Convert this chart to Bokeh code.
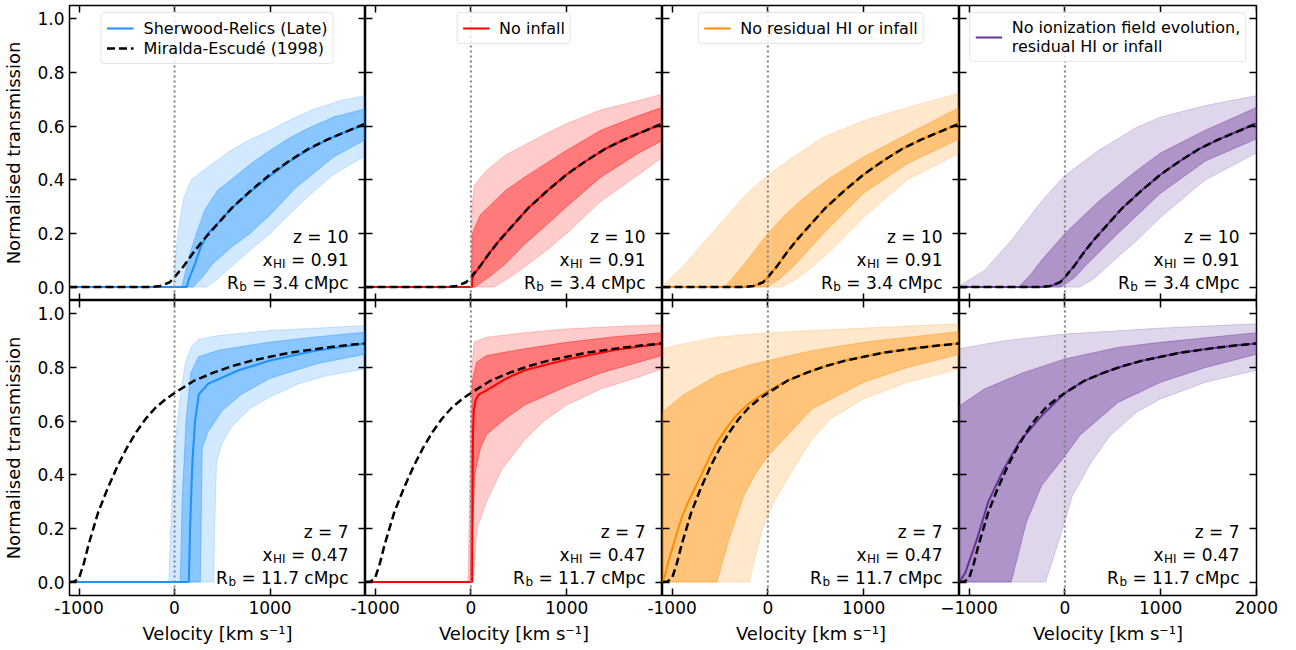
from bokeh.plotting import figure
from bokeh.layouts import row, column
from bokeh.models import (Range1d, FixedTicker, LinearAxis, Span, Legend, LegendItem,
                          Label, PrintfTickFormatter, CustomJSTickFormatter)
from bokeh.embed import file_html
from bokeh.resources import INLINE

# ---------------------------------------------------------------- data
X_TICKS = [-1000, 0, 1000, 2000]
Y_TICKS = [0.0, 0.2, 0.4, 0.6, 0.8, 1.0]
X_LABEL = "Velocity [km s\u207b\u00b9]"
Y_LABEL = "Normalised transmission"
LEGEND_LABELS = ["Sherwood-Relics (Late)", "No infall", "No residual HI or infall",
                 "No ionization field evolution,\nresidual HI or infall"]
ME_LABEL = "Miralda-Escud\u00e9 (1998)"
ANNOT_Z10 = [("z = 10", "", ""), ("x", "HI", "= 0.91"), ("R", "b", "= 3.4 cMpc")]
ANNOT_Z7 = [("z = 7", "", ""), ("x", "HI", "= 0.47"), ("R", "b", "= 11.7 cMpc")]

# Miralda-Escude curves
me10_v = [-1100, -250, -150, -50, 0, 100, 200, 300, 400, 600, 800, 1000, 1200, 1400, 1600, 1800, 2000]
me10_t = [0, 0, 0.004, 0.018, 0.037, 0.08, 0.13, 0.175, 0.215, 0.295, 0.36, 0.42, 0.47, 0.515, 0.55, 0.58, 0.61]
me7_v = [-1100, -1050, -1000, -950, -900, -800, -700, -600, -500, -400, -300, -200, -100, 0,
         200, 400, 600, 800, 1000, 1200, 1400, 1600, 1800, 2000]
me7_t = [0, 0.002, 0.015, 0.07, 0.14, 0.26, 0.35, 0.43, 0.50, 0.56, 0.61, 0.65, 0.68, 0.705,
         0.75, 0.78, 0.805, 0.825, 0.84, 0.855, 0.865, 0.875, 0.883, 0.89]

# ---- z = 10, Sherwood-Relics (blue)
z10_blue_med_v = [-1100, 127, 150, 215, 274, 350, 473, 600, 791, 1002, 1200, 1388, 1600, 1800, 2000]
z10_blue_med_t = [0, 0, 0.03, 0.087, 0.149, 0.2, 0.245, 0.295, 0.355, 0.415, 0.468, 0.51, 0.55, 0.58, 0.607]
z10_blue_hi95_v = [-1100, -15, 0, 36, 95, 175, 394, 592, 791, 1002, 1189, 1467, 1746, 2000]
z10_blue_hi95_t = [0, 0, 0.08, 0.2, 0.33, 0.40, 0.46, 0.51, 0.55, 0.585, 0.62, 0.665, 0.696, 0.715]
z10_blue_lo95_v = [-1100, 334, 450, 592, 800, 1002, 1200, 1388, 1666, 2000]
z10_blue_lo95_t = [0, 0, 0.03, 0.075, 0.14, 0.2, 0.27, 0.335, 0.42, 0.49]
z10_blue_hi68_v = [-1100, 75, 110, 155, 230, 314, 450, 592, 800, 1002, 1200, 1388, 1666, 2000]
z10_blue_hi68_t = [0, 0, 0.05, 0.12, 0.2, 0.286, 0.36, 0.40, 0.46, 0.51, 0.555, 0.59, 0.634, 0.665]
z10_blue_lo68_v = [-1100, 195, 300, 394, 600, 791, 1002, 1268, 1666, 2000]
z10_blue_lo68_t = [0, 0, 0.04, 0.085, 0.15, 0.2, 0.27, 0.37, 0.485, 0.55]

# ---- z = 10, no infall (red)
z10_red_med_v = [-1100, 10, 15, 30, 100, 200, 300, 400, 600, 800, 1000, 1200, 1400, 1600, 1800, 2000]
z10_red_med_t = [0, 0, 0.03, 0.045, 0.08, 0.13, 0.175, 0.215, 0.295, 0.36, 0.42, 0.47, 0.515, 0.55, 0.58, 0.61]
z10_red_hi95_v = [-1100, 0, 10, 36, 163, 350, 561, 800, 1000, 1356, 1753, 2000]
z10_red_hi95_t = [0, 0, 0.3, 0.38, 0.435, 0.49, 0.53, 0.575, 0.61, 0.66, 0.696, 0.72]
z10_red_lo95_v = [-1100, 243, 400, 561, 800, 1000, 1356, 1753, 2000]
z10_red_lo95_t = [0, 0, 0.035, 0.075, 0.14, 0.2, 0.32, 0.42, 0.485]
z10_red_hi68_v = [-1100, 5, 15, 100, 362, 561, 800, 1000, 1356, 1753, 2000]
z10_red_hi68_t = [0, 0, 0.2, 0.27, 0.36, 0.41, 0.465, 0.51, 0.585, 0.64, 0.67]
z10_red_lo68_v = [-1100, 44, 200, 362, 561, 800, 1000, 1356, 1753, 2000]
z10_red_lo68_t = [0, 0, 0.04, 0.087, 0.16, 0.235, 0.30, 0.41, 0.50, 0.547]

# ---- z = 10, no residual HI or infall (orange)
z10_orange_med_v = [-1100, -250, -150, -50, 0, 100, 200, 300, 400, 600, 800, 1000, 1200, 1400, 1600, 1800, 2000]
z10_orange_med_t = [0, 0, 0.004, 0.018, 0.037, 0.08, 0.13, 0.175, 0.215, 0.295, 0.36, 0.42, 0.47, 0.515, 0.55, 0.58, 0.61]
z10_orange_hi95_v = [-1100, -891, -652, -414, -215, 0, 262, 580, 998, 1455, 2000]
z10_orange_hi95_t = [0.005, 0.075, 0.174, 0.27, 0.35, 0.416, 0.485, 0.56, 0.62, 0.67, 0.723]
z10_orange_lo95_v = [-1100, 143, 300, 461, 660, 998, 1455, 2000]
z10_orange_lo95_t = [0, 0, 0.03, 0.075, 0.137, 0.26, 0.40, 0.50]
z10_orange_hi68_v = [-1100, -453, -330, -215, 0, 183, 382, 660, 998, 1455, 2000]
z10_orange_hi68_t = [0, 0, 0.05, 0.1, 0.2, 0.27, 0.335, 0.41, 0.485, 0.57, 0.67]
z10_orange_lo68_v = [-1100, -16, 120, 262, 580, 998, 1455, 2000]
z10_orange_lo68_t = [0, 0, 0.03, 0.075, 0.2, 0.35, 0.46, 0.553]

# ---- z = 10, no ionization field evolution (purple)
z10_purple_med_v = [-1100, -250, -150, -50, 0, 100, 200, 300, 400, 600, 800, 1000, 1200, 1400, 1600, 1800, 2000]
z10_purple_med_t = [0, 0, 0.004, 0.018, 0.037, 0.08, 0.13, 0.175, 0.215, 0.295, 0.36, 0.42, 0.47, 0.515, 0.55, 0.58, 0.61]
z10_purple_hi95_v = [-1100, -839, -560, -243, 0, 354, 751, 998, 1467, 2000]
z10_purple_hi95_t = [0.005, 0.062, 0.174, 0.32, 0.416, 0.51, 0.596, 0.634, 0.677, 0.714]
z10_purple_lo95_v = [-1100, 155, 300, 473, 751, 998, 1467, 2000]
z10_purple_lo95_t = [0, 0, 0.03, 0.087, 0.174, 0.26, 0.40, 0.50]
z10_purple_hi68_v = [-1100, -481, -350, -243, 0, 354, 751, 998, 1467, 2000]
z10_purple_hi68_t = [0, 0, 0.05, 0.1, 0.2, 0.32, 0.435, 0.50, 0.585, 0.67]
z10_purple_lo68_v = [-1100, -44, 100, 235, 553, 998, 1467, 2000]
z10_purple_lo68_t = [0, 0, 0.035, 0.087, 0.2, 0.35, 0.47, 0.553]

# ---- z = 7, Sherwood-Relics (blue)
z7_blue_med_v = [-1100, 150, 163, 187, 215, 254, 354, 672, 1002, 1467, 2000]
z7_blue_med_t = [0, 0, 0.2, 0.45, 0.6, 0.7, 0.74, 0.79, 0.826, 0.863, 0.89]
z7_blue_hi95_v = [-1100, -60, -30, 0, 36, 70, 115, 180, 250, 473, 1002, 1500, 2000]
z7_blue_hi95_t = [0, 0, 0.3, 0.5, 0.62, 0.72, 0.82, 0.88, 0.905, 0.92, 0.938, 0.947, 0.957]
z7_blue_lo95_v = [-1100, 410, 420, 440, 500, 600, 800, 1000, 1300, 1600, 2000]
z7_blue_lo95_t = [0, 0, 0.2, 0.45, 0.52, 0.58, 0.65, 0.69, 0.74, 0.77, 0.795]
z7_blue_hi68_v = [-1100, 60, 80, 120, 170, 250, 473, 1002, 1500, 2000]
z7_blue_hi68_t = [0, 0, 0.3, 0.6, 0.78, 0.84, 0.865, 0.895, 0.915, 0.932]
z7_blue_lo68_v = [-1100, 270, 280, 290, 350, 500, 700, 1000, 1500, 2000]
z7_blue_lo68_t = [0, 0, 0.25, 0.5, 0.56, 0.64, 0.70, 0.76, 0.815, 0.85]

# ---- z = 7, no infall (red)
z7_red_med_v = [-1100, 12, 16, 22, 30, 50, 84, 163, 362, 561, 1000, 1500, 2000]
z7_red_med_t = [0, 0, 0.25, 0.55, 0.64, 0.68, 0.70, 0.715, 0.758, 0.79, 0.83, 0.865, 0.89]
z7_red_hi95_v = [-1100, -30, -10, 10, 36, 163, 561, 1000, 1500, 2000]
z7_red_hi95_t = [0, 0, 0.4, 0.8, 0.895, 0.913, 0.93, 0.944, 0.953, 0.96]
z7_red_lo95_v = [-1100, 24, 64, 163, 322, 561, 760, 1000, 1356, 1753, 2000]
z7_red_lo95_t = [0, 0, 0.2, 0.3, 0.42, 0.53, 0.6, 0.66, 0.72, 0.765, 0.795]
z7_red_hi68_v = [-1100, -5, 5, 15, 60, 163, 561, 1000, 1500, 2000]
z7_red_hi68_t = [0, 0, 0.4, 0.75, 0.82, 0.845, 0.87, 0.894, 0.915, 0.93]
z7_red_lo68_v = [-1100, 10, 20, 40, 100, 163, 362, 561, 1000, 1356, 2000]
z7_red_lo68_t = [0, 0, 0.2, 0.4, 0.5, 0.55, 0.61, 0.66, 0.73, 0.78, 0.845]

# ---- z = 7, no residual HI or infall (orange)
z7_orange_med_v = [-1100, -1070, -1050, -970, -900, -831, -731, -630, -533, -430, -334, -200, -100, 0,
                   200, 400, 600, 800, 1000, 1200, 1400, 1600, 1800, 2000]
z7_orange_med_t = [0, 0.03, 0.062, 0.16, 0.24, 0.30, 0.373, 0.45, 0.52, 0.575, 0.62, 0.665, 0.69, 0.712,
                   0.75, 0.78, 0.805, 0.825, 0.84, 0.855, 0.865, 0.875, 0.883, 0.89]
z7_orange_hi95_v = [-1100, -890, -533, 0, 998, 2000]
z7_orange_hi95_t = [0.87, 0.888, 0.913, 0.93, 0.947, 0.963]
z7_orange_lo95_v = [-1100, -195, -56, 64, 262, 461, 660, 998, 1455, 2000]
z7_orange_lo95_t = [0, 0, 0.2, 0.3, 0.42, 0.534, 0.61, 0.683, 0.745, 0.795]
z7_orange_hi68_v = [-1100, -890, -533, -215, 0, 461, 998, 2000]
z7_orange_hi68_t = [0.634, 0.696, 0.77, 0.807, 0.826, 0.863, 0.894, 0.934]
z7_orange_lo68_v = [-1100, -533, -414, -254, -135, 0, 262, 461, 998, 1455, 2000]
z7_orange_lo68_t = [0, 0, 0.15, 0.32, 0.40, 0.47, 0.57, 0.646, 0.745, 0.80, 0.85]

# ---- z = 7, no ionization field evolution (purple)
z7_purple_med_v = [-1100, -1037, -918, -799, -640, -481, -243, 0,
                   200, 400, 600, 800, 1000, 1200, 1400, 1600, 1800, 2000]
z7_purple_med_t = [0, 0.037, 0.16, 0.30, 0.42, 0.52, 0.62, 0.705,
                   0.75, 0.78, 0.805, 0.825, 0.84, 0.855, 0.865, 0.875, 0.883, 0.89]
z7_purple_hi95_v = [-1100, -640, 0, 998, 2000]
z7_purple_hi95_t = [0.87, 0.9, 0.925, 0.947, 0.963]
z7_purple_lo95_v = [-1100, -203, -44, 76, 274, 473, 751, 998, 1467, 2000]
z7_purple_lo95_t = [0, 0, 0.174, 0.32, 0.447, 0.547, 0.634, 0.683, 0.745, 0.79]
z7_purple_hi68_v = [-1100, -839, -441, 0, 553, 998, 2000]
z7_purple_hi68_t = [0.658, 0.72, 0.78, 0.832, 0.875, 0.894, 0.93]
z7_purple_lo68_v = [-1100, -561, -402, -243, 0, 155, 553, 998, 1467, 2000]
z7_purple_lo68_t = [0, 0, 0.224, 0.36, 0.47, 0.547, 0.67, 0.745, 0.80, 0.85]

# ---------------------------------------------------------------- style
FONT = "DejaVu Sans"
COLORS = ["#1E90FF", "#FF0000", "#FF8C00", "#663399"]
XMIN, XMAX = -1100, 2000
YMIN, YMAX = -0.05, 1.05
FRAME_W, FRAME_H = 297, 295
LEFT_B, RIGHT_B, TOP_B, BOT_B, OVER = 68, 24, 5, 52, 24

# DejaVu Sans advance widths (em)
ADV = {' ': 0.318, '=': 0.838, '.': 0.318, 'c': 0.550, 'M': 0.863, 'p': 0.635,
       'H': 0.752, 'I': 0.295, 'x': 0.592, 'R': 0.695, 'b': 0.635, 'z': 0.525}
for d in "0123456789":
    ADV[d] = 0.636


def tw(s, size):
    return sum(ADV.get(ch, 0.6) for ch in s) * size


PANELS = {
    (0, 0): (z10_blue_med_v, z10_blue_med_t, z10_blue_hi95_v, z10_blue_hi95_t, z10_blue_lo95_v, z10_blue_lo95_t,
             z10_blue_hi68_v, z10_blue_hi68_t, z10_blue_lo68_v, z10_blue_lo68_t),
    (0, 1): (z10_red_med_v, z10_red_med_t, z10_red_hi95_v, z10_red_hi95_t, z10_red_lo95_v, z10_red_lo95_t,
             z10_red_hi68_v, z10_red_hi68_t, z10_red_lo68_v, z10_red_lo68_t),
    (0, 2): (z10_orange_med_v, z10_orange_med_t, z10_orange_hi95_v, z10_orange_hi95_t, z10_orange_lo95_v,
             z10_orange_lo95_t, z10_orange_hi68_v, z10_orange_hi68_t, z10_orange_lo68_v, z10_orange_lo68_t),
    (0, 3): (z10_purple_med_v, z10_purple_med_t, z10_purple_hi95_v, z10_purple_hi95_t, z10_purple_lo95_v,
             z10_purple_lo95_t, z10_purple_hi68_v, z10_purple_hi68_t, z10_purple_lo68_v, z10_purple_lo68_t),
    (1, 0): (z7_blue_med_v, z7_blue_med_t, z7_blue_hi95_v, z7_blue_hi95_t, z7_blue_lo95_v, z7_blue_lo95_t,
             z7_blue_hi68_v, z7_blue_hi68_t, z7_blue_lo68_v, z7_blue_lo68_t),
    (1, 1): (z7_red_med_v, z7_red_med_t, z7_red_hi95_v, z7_red_hi95_t, z7_red_lo95_v, z7_red_lo95_t,
             z7_red_hi68_v, z7_red_hi68_t, z7_red_lo68_v, z7_red_lo68_t),
    (1, 2): (z7_orange_med_v, z7_orange_med_t, z7_orange_hi95_v, z7_orange_hi95_t, z7_orange_lo95_v,
             z7_orange_lo95_t, z7_orange_hi68_v, z7_orange_hi68_t, z7_orange_lo68_v, z7_orange_lo68_t),
    (1, 3): (z7_purple_med_v, z7_purple_med_t, z7_purple_hi95_v, z7_purple_hi95_t, z7_purple_lo95_v,
             z7_purple_lo95_t, z7_purple_hi68_v, z7_purple_hi68_t, z7_purple_lo68_v, z7_purple_lo68_t),
}


def base_axis(ax, ticks):
    ax.ticker = FixedTicker(ticks=ticks)
    ax.axis_line_color = None
    ax.major_tick_in = 7
    ax.major_tick_out = 0
    ax.major_tick_line_width = 1.5
    ax.major_tick_line_color = "black"
    ax.minor_tick_line_color = None
    ax.major_label_text_font = FONT
    ax.axis_label_text_font = FONT
    ax.axis_label_text_font_style = "normal"
    ax.major_label_text_color = "black"
    ax.axis_label_text_color = "black"


def hidden_axis(ticks, loc):
    ax = LinearAxis(fixed_location=loc)
    base_axis(ax, ticks)
    ax.formatter = CustomJSTickFormatter(code="return ''")
    ax.major_label_text_font_size = "0px"
    ax.major_label_standoff = 0
    ax.axis_label_standoff = 0
    return ax


def make_panel(r, c):
    lb = LEFT_B if c == 0 else OVER
    rb = RIGHT_B if c == 3 else 0
    tb = TOP_B if r == 0 else 0
    bb = BOT_B if r == 1 else 0
    p = figure(width=FRAME_W + lb + rb, height=FRAME_H + tb + bb,
               x_range=Range1d(XMIN, XMAX), y_range=Range1d(YMIN, YMAX),
               output_backend="svg", toolbar_location=None,
               x_axis_location=None, y_axis_location=None,
               min_border_left=lb, min_border_right=rb, min_border_top=tb, min_border_bottom=bb)
    if c > 0:
        p.margin = (0, 0, 0, -OVER)
    p.border_fill_color = None
    p.background_fill_color = "white"
    p.outline_line_color = "black"
    p.outline_line_width = 1.5
    p.grid.visible = False

    if c == 0:
        left = LinearAxis()
        base_axis(left, Y_TICKS)
        left.formatter = PrintfTickFormatter(format="%.1f")
        left.major_label_text_font_size = "17px"
        left.major_label_standoff = 5
        left.axis_label = Y_LABEL
        left.axis_label_text_font_size = "18px"
        left.axis_label_standoff = 10
    else:
        left = hidden_axis(Y_TICKS, XMIN)
    right = hidden_axis(Y_TICKS, XMAX)
    top = hidden_axis(X_TICKS, YMAX)
    if r == 1:
        bottom = LinearAxis()
        base_axis(bottom, X_TICKS)
        if c < 3:
            bottom.major_label_overrides = {-1000: "-1000", 0: "0", 1000: "1000", 2000: ""}
        else:
            bottom.major_label_overrides = {-1000: "\u22121000", 0: "0", 1000: "1000", 2000: "2000"}
        bottom.major_label_text_font_size = "17px"
        bottom.major_label_standoff = 5
        bottom.axis_label = X_LABEL
        bottom.axis_label_text_font_size = "18px"
        bottom.axis_label_standoff = 6
    else:
        bottom = hidden_axis(X_TICKS, YMIN)
    p.add_layout(left, "left")
    p.add_layout(right, "right")
    p.add_layout(top, "above")
    p.add_layout(bottom, "below")

    col = COLORS[c]
    (mv, mt, h95v, h95t, l95v, l95t, h68v, h68t, l68v, l68t) = PANELS[(r, c)]
    p.patch(h95v + l95v[::-1], h95t + l95t[::-1], fill_color=col, fill_alpha=0.2,
            line_color=col, line_alpha=0.2, line_width=1)
    p.patch(h68v + l68v[::-1], h68t + l68t[::-1], fill_color=col, fill_alpha=0.4,
            line_color=col, line_alpha=0.4, line_width=1)
    med = p.line(mv, mt, line_color=col, line_width=2)
    mev, met = (me10_v, me10_t) if r == 0 else (me7_v, me7_t)
    me = p.line(mev, met, line_color="black", line_width=2.5, line_dash="8 4")
    p.add_layout(Span(location=0, dimension="height", line_color="#808080",
                      line_dash="2 3", line_width=2))

    if r == 0:
        items = [LegendItem(label=LEGEND_LABELS[c], renderers=[med])]
        if c == 0:
            items.append(LegendItem(label=ME_LABEL, renderers=[me]))
        leg = Legend(items=items, location="top_center")
        leg.label_text_font = FONT
        leg.label_text_font_size = "16px"
        leg.label_text_color = "black"
        leg.border_line_color = "#cccccc"
        leg.border_line_width = 1
        leg.background_fill_alpha = 0.8
        leg.padding = 5
        leg.spacing = 0
        leg.margin = 7
        leg.glyph_width = 27
        leg.glyph_height = 20
        leg.label_height = 20
        leg.label_standoff = 10
        try:
            leg.border_radius = 4
        except Exception:
            pass
        p.add_layout(leg)

    annot = ANNOT_Z10 if r == 0 else ANNOT_Z7
    base_off = [64, 40.5, 17.5]
    for (main, sub, rest), yoff in zip(annot, base_off):
        common = dict(x=XMAX, y=YMIN, x_units="data", y_units="data", text_align="right",
                      text_baseline="alphabetic", text_font=FONT, text_color="black")
        if not sub:
            p.add_layout(Label(text=main, x_offset=-17, y_offset=yoff, text_font_size="17px", **common))
            continue
        p.add_layout(Label(text=rest, x_offset=-17, y_offset=yoff, text_font_size="17px", **common))
        sub_right = -17 - tw(rest, 17) - tw(" ", 17)
        p.add_layout(Label(text=sub, x_offset=sub_right, y_offset=yoff - 4, text_font_size="12px", **common))
        main_right = sub_right - tw(sub, 12) - 0.5
        p.add_layout(Label(text=main, x_offset=main_right, y_offset=yoff, text_font_size="17px", **common))
    return p


rows = [row(*[make_panel(r, c) for c in range(4)]) for r in range(2)]
layout = column(*rows)
open("out.html", "w").write(file_html(layout, INLINE))
